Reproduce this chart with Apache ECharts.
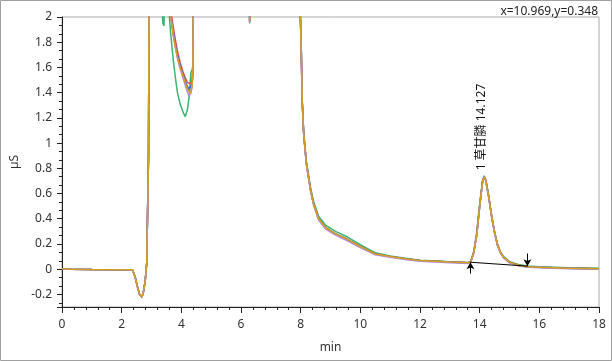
<!DOCTYPE html>
<html><head><meta charset="utf-8">
<script src="https://cdn.jsdelivr.net/npm/echarts@6/dist/echarts.min.js"></script>
<style>html,body{margin:0;padding:0;background:#fff}#c{width:612px;height:361px}</style>
</head><body><div id="c"></div>
<script>
// retention times (min)
const times = [0,0.3,1,2,2.36,2.45,2.53,2.6,2.68,2.73,2.79,2.84,2.9,2.93,3.2,3.38,3.42,3.46,3.6,3.65,3.73,3.8,3.87,3.96,4.05,4.13,4.2,4.26,4.32,4.36,4.39,4.41,5.0,6.25,6.29,6.32,6.36,7.0,7.95,7.99,8.02,8.05,8.1,8.19,8.33,8.43,8.6,8.83,9.17,9.57,10.0,10.5,11.0,11.5,12.0,12.5,13.0,13.6,13.7,13.8,13.9,14.0,14.1,14.15,14.2,14.3,14.4,14.5,14.6,14.7,14.8,15.0,15.3,15.6,16.0,17.0,18.0];
// conductivity traces (uS); values above 2 are off scale
const green  = [0.003,0,-0.003,-0.004,-0.005,-0.06,-0.14,-0.2,-0.22,-0.18,-0.09,0.05,0.9,3,3,1.95,1.93,3,2.0,1.85,1.66,1.52,1.40,1.31,1.25,1.21,1.26,1.36,1.56,1.58,1.62,3,3,3,1.95,1.94,3,3,3,2.0,1.76,1.36,1.10,0.86,0.65,0.54,0.42,0.35,0.30,0.255,0.195,0.13,0.105,0.086,0.071,0.064,0.058,0.053,0.062,0.14,0.29,0.52,0.71,0.74,0.715,0.59,0.43,0.30,0.20,0.135,0.10,0.06,0.037,0.026,0.02,0.012,0.008];
const gray   = [0.003,0,-0.003,-0.004,-0.005,-0.06,-0.14,-0.2,-0.22,-0.18,-0.09,0.05,0.9,3,3,3,3,3,3,2.0,1.87,1.77,1.69,1.61,1.55,1.49,1.45,1.42,1.41,1.46,1.58,3,3,3,1.96,1.96,3,3,3,2.0,1.74,1.34,1.08,0.84,0.63,0.52,0.40,0.33,0.28,0.235,0.18,0.12,0.10,0.082,0.068,0.062,0.056,0.05,0.06,0.13,0.27,0.5,0.70,0.73,0.71,0.58,0.42,0.29,0.19,0.13,0.095,0.055,0.032,0.02,0.016,0.008,0.004];
const red    = [0.003,0,-0.003,-0.004,-0.005,-0.06,-0.14,-0.2,-0.22,-0.18,-0.09,0.05,0.9,3,3,3,3,3,3,2.05,1.92,1.82,1.73,1.64,1.57,1.52,1.48,1.47,1.47,1.50,1.60,3,3,3,1.97,1.97,3,3,3,2.0,1.74,1.34,1.08,0.84,0.63,0.52,0.40,0.33,0.28,0.235,0.18,0.12,0.10,0.082,0.068,0.062,0.056,0.05,0.06,0.13,0.27,0.5,0.70,0.73,0.71,0.58,0.42,0.29,0.19,0.13,0.095,0.055,0.032,0.02,0.016,0.008,0.004];
const blue   = [0.003,0,-0.003,-0.004,-0.005,-0.06,-0.14,-0.2,-0.22,-0.18,-0.09,0.05,0.9,3,3,3,3,3,3,2.0,1.88,1.78,1.70,1.62,1.55,1.49,1.45,1.43,1.44,1.47,1.55,3,3,3,1.97,1.96,3,3,3,2.0,1.74,1.34,1.08,0.84,0.63,0.52,0.40,0.33,0.28,0.235,0.18,0.12,0.10,0.082,0.068,0.062,0.056,0.05,0.06,0.13,0.27,0.5,0.70,0.73,0.71,0.58,0.42,0.29,0.19,0.13,0.095,0.055,0.032,0.02,0.016,0.008,0.004];
const purple = [0.003,0,-0.003,-0.004,-0.005,-0.06,-0.14,-0.2,-0.22,-0.18,-0.09,0.05,0.9,3,3,3,3,3,3,2.0,1.86,1.76,1.67,1.59,1.52,1.46,1.41,1.37,1.36,1.44,1.57,3,3,3,1.96,1.95,3,3,3,2.0,1.73,1.33,1.07,0.83,0.62,0.51,0.39,0.32,0.27,0.225,0.172,0.114,0.094,0.076,0.062,0.056,0.05,0.045,0.055,0.125,0.265,0.49,0.70,0.73,0.705,0.575,0.415,0.285,0.185,0.125,0.09,0.05,0.027,0.015,0.011,0.004,0.0];
const orange = [0.003,0,-0.003,-0.004,-0.005,-0.06,-0.14,-0.2,-0.22,-0.18,-0.09,0.05,0.9,3,3,3,3,3,3,2.0,1.85,1.76,1.68,1.60,1.54,1.48,1.43,1.41,1.39,1.46,1.60,3,3,3,1.97,1.96,3,3,3,2.0,1.74,1.34,1.08,0.84,0.63,0.52,0.40,0.33,0.28,0.235,0.18,0.12,0.10,0.082,0.068,0.062,0.056,0.05,0.06,0.13,0.27,0.5,0.70,0.73,0.71,0.58,0.42,0.29,0.19,0.13,0.095,0.055,0.032,0.02,0.016,0.008,0.004];
// integration baseline of peak 1
const baseStart = [13.69, 0.055];
const baseEnd = [15.6, 0.024];
// peak annotation
const peakTime = 14.127;
const peakHeight = 0.74;
const peakLabel = '1 草甘膦 14.127';
const xTicks = [0,2,4,6,8,10,12,14,16,18];
const yTicks = [-0.2,0,0.2,0.4,0.6,0.8,1,1.2,1.4,1.6,1.8,2];

const font = "'Noto Sans','Noto Sans CJK SC',sans-serif";
const pair = arr => times.map((t,i)=>[t,arr[i]]);
const traces = [
  ['#3cb371', green], ['#8c8c8c', gray], ['#e0504f', red],
  ['#3f6fd8', blue], ['#b088e6', purple], ['#d4a020', orange]
];
const series = traces.map(([c,a]) => ({
  type:'line', data: pair(a), showSymbol:false, symbol:'none',
  lineStyle:{color:c,width:1.5}, itemStyle:{color:c}, animation:false, clip:true, z:2
}));
series[series.length-1].markPoint = {
  symbol:'circle', symbolSize:1, itemStyle:{color:'rgba(0,0,0,0)'},
  label:{show:true, formatter:peakLabel, rotate:90, position:'top', align:'left', verticalAlign:'middle',
    color:'#111', fontSize:12, fontFamily:font, offset:[0,-2]},
  data:[{coord:[peakTime, peakHeight]}], animation:false
};
series.push({
  type:'line', data:[baseStart, baseEnd], showSymbol:false, symbol:'none',
  lineStyle:{color:'#000',width:1}, animation:false, z:5,
  markLine:{silent:true, animation:false, symbol:['none','arrow'], symbolSize:[6,7],
    lineStyle:{color:'#000',width:1,type:'solid'}, label:{show:false},
    data:[
      [{coord:[baseStart[0], baseStart[1]-0.09]},{coord:[baseStart[0], baseStart[1]]}],
      [{coord:[baseEnd[0], baseEnd[1]+0.1]},{coord:[baseEnd[0], baseEnd[1]]}]
    ]}
});

const chart = echarts.init(document.getElementById('c'), null, {renderer:'canvas'});
chart.setOption({
  animation:false,
  title:{text:'x=10.969,y=0.348', right:9, top:1, textStyle:{fontSize:12, fontWeight:'normal', color:'#222', fontFamily:font}},
  grid:{left:62, right:13, top:17, bottom:54, show:true, borderColor:'#a8a8a8', borderWidth:1},
  xAxis:{type:'value', min:0, max:18, interval:2, name:'min', nameLocation:'middle', nameGap:35,
    nameTextStyle:{color:'#333', fontSize:12, fontFamily:font},
    axisLine:{show:true, onZero:false, lineStyle:{color:'#222'}},
    axisTick:{show:true, length:6, inside:false, lineStyle:{color:'#222'}},
    minorTick:{show:true, splitNumber:5, length:3, lineStyle:{color:'#222'}},
    axisLabel:{color:'#333', fontSize:12, fontFamily:font, margin:12, formatter:v=>xTicks.includes(v)?String(v):''},
    splitLine:{show:false}},
  yAxis:{type:'value', min:-0.3, max:2, splitNumber:12, name:'µS', nameLocation:'middle', nameGap:41, nameRotate:90,
    nameTextStyle:{color:'#333', fontSize:12, fontFamily:font},
    axisLine:{show:true, onZero:false, lineStyle:{color:'#222'}},
    axisTick:{show:true, length:5, lineStyle:{color:'#222'}},
    minorTick:{show:true, splitNumber:3, length:3, lineStyle:{color:'#222'}},
    axisLabel:{color:'#333', fontSize:12, fontFamily:font, margin:10, showMinLabel:false,
      formatter:v=>{const r=Math.round(v*10)/10; return yTicks.some(t=>Math.abs(t-v)<1e-6)?String(r):'';}},
    splitLine:{show:false}},
  graphic:[{type:'rect', shape:{x:0.5,y:0.5,width:611,height:360}, style:{fill:null, stroke:'#a0a0a0', lineWidth:1}, silent:true, z:-1}],
  series
});
</script></body></html>
